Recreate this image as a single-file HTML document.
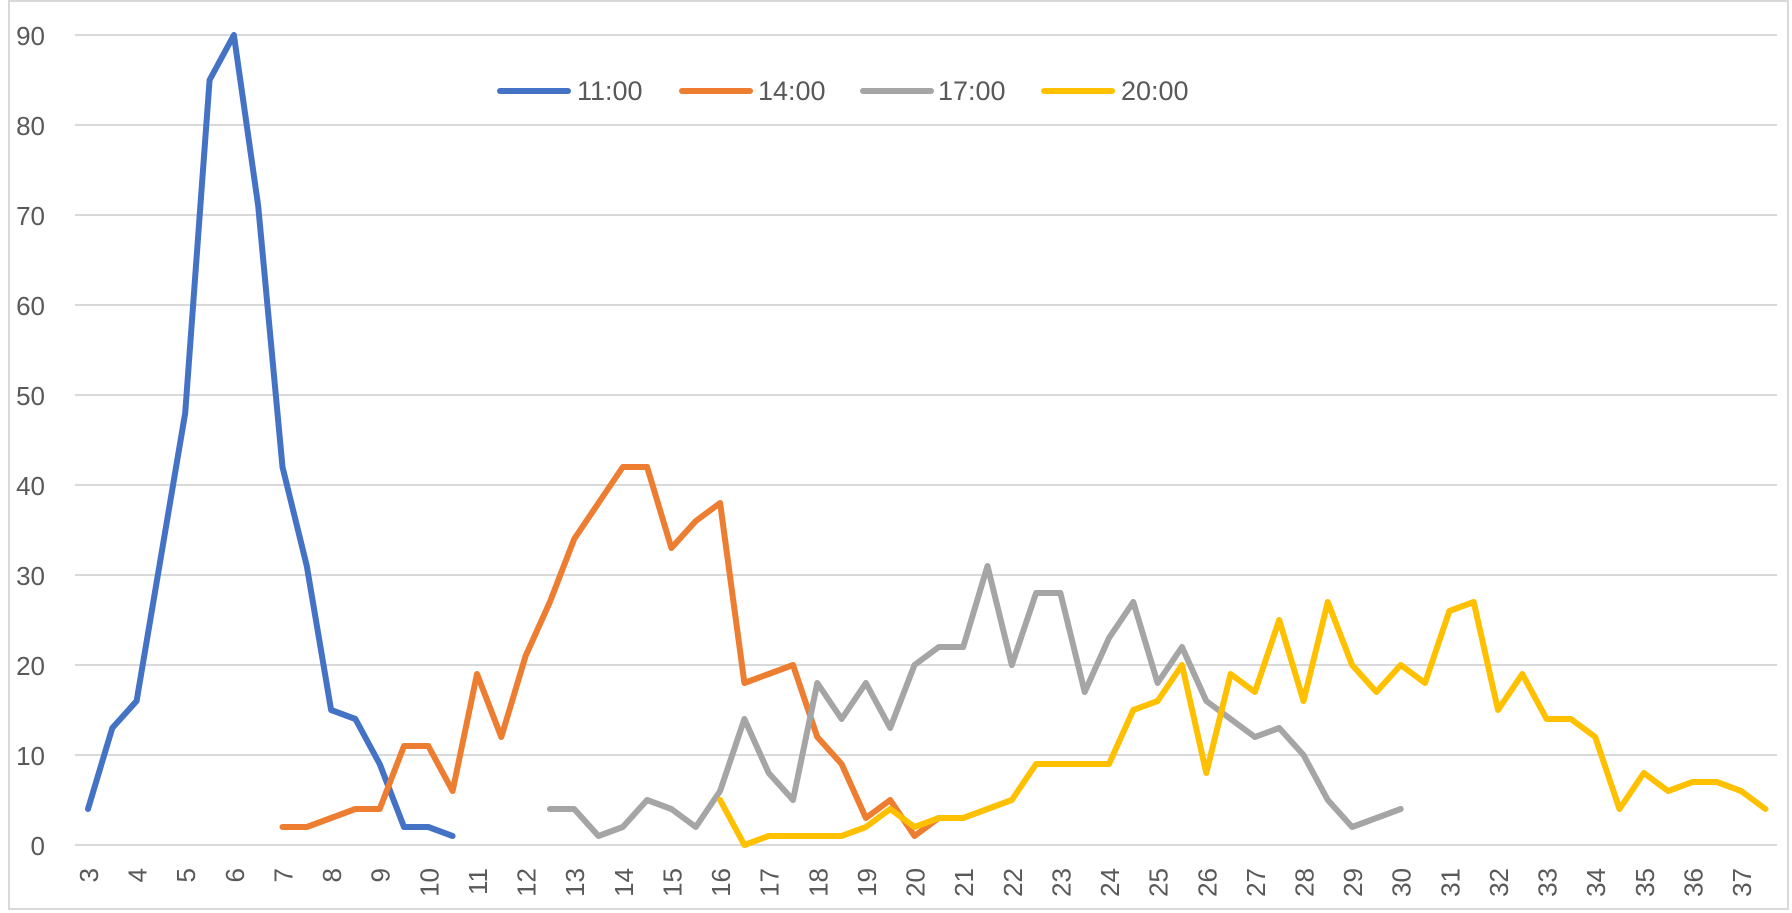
<!DOCTYPE html>
<html><head><meta charset="utf-8"><style>
html,body{margin:0;padding:0;background:#fff;}
svg{display:block;font-family:"Liberation Sans",Arial,sans-serif;}
</style></head><body>
<svg id="c" width="1792" height="913" xmlns="http://www.w3.org/2000/svg">
<rect x="9" y="1" width="1779" height="908" fill="#fff" stroke="#d9d9d9" stroke-width="2"/>
<g id="grid"></g><g id="lab"></g><g id="ser"></g>
<g font-size="27" fill="#595959">
<line x1="500" y1="91" x2="568" y2="91" stroke="#4472c4" stroke-width="6" stroke-linecap="round"/><text x="577" y="100">11:00</text>
<line x1="682" y1="91" x2="750" y2="91" stroke="#ed7d31" stroke-width="6" stroke-linecap="round"/><text x="758" y="100">14:00</text>
<line x1="863" y1="91" x2="931" y2="91" stroke="#a5a5a5" stroke-width="6" stroke-linecap="round"/><text x="938" y="100">17:00</text>
<line x1="1044" y1="91" x2="1112" y2="91" stroke="#ffc000" stroke-width="6" stroke-linecap="round"/><text x="1121" y="100">20:00</text>
</g>
</svg>
<script>
var NS="http://www.w3.org/2000/svg";
function X(v){return 88+(v-3)*2*24.31;}
function Y(v){return 845-9*v;}
function el(t,a,p,txt){var e=document.createElementNS(NS,t);for(var k in a)e.setAttribute(k,a[k]);if(txt!==undefined)e.textContent=txt;document.getElementById(p).appendChild(e);return e;}
for(var g=0;g<=90;g+=10){el('line',{x1:75,x2:1777,y1:Y(g),y2:Y(g),stroke:'#d9d9d9','stroke-width':2},'grid');
el('text',{x:45,y:Y(g)+10,'text-anchor':'end','font-size':26,fill:'#595959'},'lab',g);}
for(var n=3;n<=37;n++){var x=X(n);el('text',{transform:'translate('+(x+10)+',868) rotate(-90)','text-anchor':'end','font-size':26,fill:'#595959'},'lab',n);}
function S(start,vals,col){var pts=vals.map(function(v,i){return X(start+i*0.5).toFixed(1)+','+Y(v).toFixed(1);}).join(' ');
el('polyline',{points:pts,fill:'none',stroke:col,'stroke-width':6,'stroke-linejoin':'round','stroke-linecap':'round'},'ser');}
S(3,[4,13,16,32,48,85,90,71,42,31,15,14,9,2,2,1],'#4472c4');
S(7,[2,2,3,4,4,11,11,6,19,12,21,27,34,38,42,42,33,36,38,18,19,20,12,9,3,5,1,3],'#ed7d31');
S(12.5,[4,4,1,2,5,4,2,6,14,8,5,18,14,18,13,20,22,22,31,20,28,28,17,23,27,18,22,16,14,12,13,10,5,2,3,4],'#a5a5a5');
S(16,[5,0,1,1,1,1,2,4,2,3,3,4,5,9,9,9,9,15,16,20,8,19,17,25,16,27,20,17,20,18,26,27,15,19,14,14,12,4,8,6,7,7,6,4],'#ffc000');
</script>
</body></html>
